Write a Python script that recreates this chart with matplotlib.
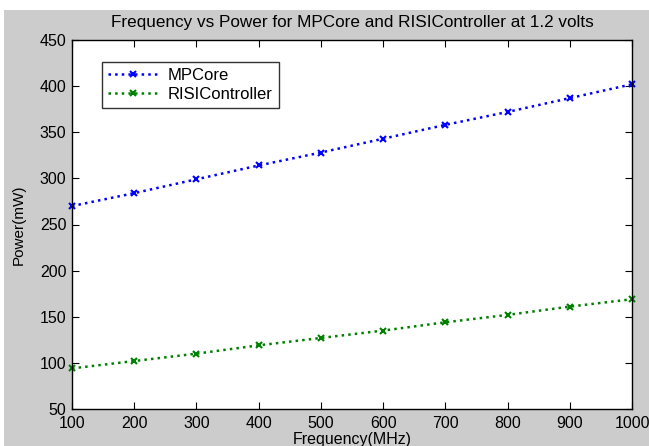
import matplotlib
matplotlib.use("Agg")
import matplotlib.pyplot as plt
from matplotlib.patches import Rectangle

freq = [100, 200, 300, 400, 500, 600, 700, 800, 900, 1000]
mpcore = [270, 284, 299, 314, 328, 343, 358, 372, 387, 402]
risi = [94, 102, 110, 119, 127, 135, 144, 152, 161, 169]
xticks = [100, 200, 300, 400, 500, 600, 700, 800, 900, 1000]
yticks = [50, 100, 150, 200, 250, 300, 350, 400, 450]

plt.rcParams['font.family'] = ['Liberation Sans', 'DejaVu Sans']

W, H = 649, 446
fig = plt.figure(figsize=(W / 100, H / 100), dpi=100, facecolor='white')
fig.patches.append(Rectangle((4 / W, 0), 1 - 4 / W, 1 - 10 / H, transform=fig.transFigure,
                             facecolor='#cccccc', edgecolor='none', zorder=-10))

ax = fig.add_axes([72 / W, 1 - 409 / H, (632 - 72) / W, (409 - 40) / H])
ax.set_facecolor('white')

ax.plot(freq, mpcore, linestyle=':', color='#0000ff', linewidth=1.8, marker='x',
        markersize=5, markeredgewidth=1.5, label='MPCore', clip_on=False)
ax.plot(freq, risi, linestyle=':', color='#008000', linewidth=1.8, marker='x',
        markersize=5, markeredgewidth=1.5, label='RISIController', clip_on=False)

ax.set_xlim(100, 1000)
ax.set_ylim(50, 450)
ax.set_xticks(xticks)
ax.set_yticks(yticks)
ax.tick_params(direction='in', length=5, width=0.8, top=True, right=True,
               labelsize=11.5, colors='black')
ax.tick_params(axis='x', pad=5)
ax.tick_params(axis='y', pad=4)
for s in ax.spines.values():
    s.set_linewidth(1.0)
    s.set_color('black')

ax.set_title('Frequency vs Power for MPCore and RISIController at 1.2 volts', fontsize=12.3, pad=9)
ax.set_xlabel('Frequency(MHz)', fontsize=11.5, labelpad=1)
ax.set_ylabel('Power(mW)', fontsize=11, labelpad=10)

leg = ax.legend(loc='upper left', bbox_to_anchor=((102 - 72) / (632 - 72), 1 - (62 - 40) / (409 - 40)),
                fontsize=12, frameon=True, fancybox=False, edgecolor='black',
                handlelength=3.0, handletextpad=0.6, borderpad=0.35, labelspacing=0.25,
                borderaxespad=0)
leg.get_frame().set_linewidth(1.0)

fig.savefig('out.png', dpi=100, facecolor=fig.get_facecolor())
